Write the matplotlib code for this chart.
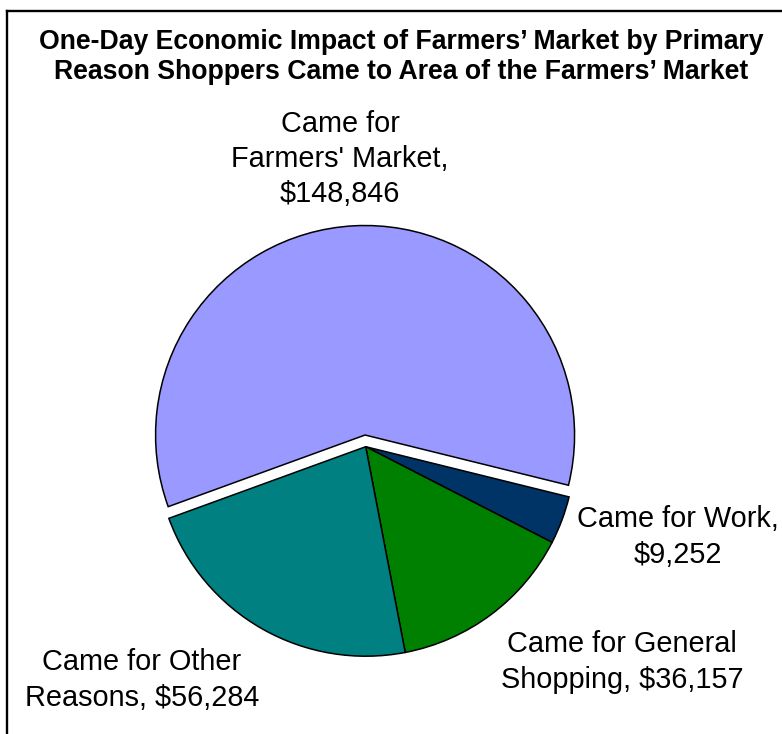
import matplotlib
matplotlib.use("Agg")
import matplotlib.pyplot as plt
from matplotlib.lines import Line2D

plt.rcParams["font.family"] = ["Liberation Sans", "DejaVu Sans"]

# Umsatz je Hauptgrund des Besuchs
reasons = ["Came for\nFarmers' Market", "Came for Work", "Came for General\nShopping", "Came for Other\nReasons"]
impact_usd = [148846, 9252, 36157, 56284]
slice_colors = ["#9999FF", "#003366", "#008000", "#008080"]

title = ("One-Day Economic Impact of Farmers\u2019 Market by Primary\n"
         "Reason Shoppers Came to Area of the Farmers\u2019 Market")

W, H = 782, 734
fig = plt.figure(figsize=(W / 100, H / 100), dpi=100)
ax = fig.add_axes([0, 0, 1, 1])

radius = 209.5
center = (365.7, H - 446.7)
explode = [11.7, 0, 0, 0]

ax.pie(
    impact_usd,
    colors=slice_colors,
    explode=explode,
    center=center,
    radius=radius,
    startangle=200,
    counterclock=False,
    wedgeprops={"edgecolor": "black", "linewidth": 1.1},
)
ax.set_xlim(0, W)
ax.set_ylim(0, H)
ax.set_aspect("equal")
ax.axis("off")


def money(v):
    return f"${v:,.0f}"


# Beschriftungen: Position (x, y) der Textmitte in Pixeln von oben
label_text = [
    f"{reasons[0]},\n{money(impact_usd[0])}",
    f"{reasons[1]},\n{money(impact_usd[1])}",
    f"{reasons[2].split(chr(10))[0]}\n{reasons[2].split(chr(10))[1]}, {money(impact_usd[2])}",
    f"{reasons[3].split(chr(10))[0]}\n{reasons[3].split(chr(10))[1]}, {money(impact_usd[3])}",
]
label_pos = [(340, 159), (678, 537), (622, 662), (142, 680)]

for txt, (x, y) in zip(label_text, label_pos):
    ax.text(x, H - y, txt, ha="center", va="center", fontsize=20.8,
            linespacing=1.33)

fig.text(401 / W, 1 - 57 / H, title, ha="center", va="center",
         fontsize=19.2, fontweight="bold", linespacing=1.2)

# Rahmen links und oben
fig.add_artist(Line2D([6.5 / W, 6.5 / W], [0, 1 - 10.5 / H], transform=fig.transFigure,
                      color="black", linewidth=1.7))
fig.add_artist(Line2D([6.5 / W, 1], [1 - 10.5 / H, 1 - 10.5 / H], transform=fig.transFigure,
                      color="black", linewidth=1.7))

fig.savefig("out.png", dpi=100)
